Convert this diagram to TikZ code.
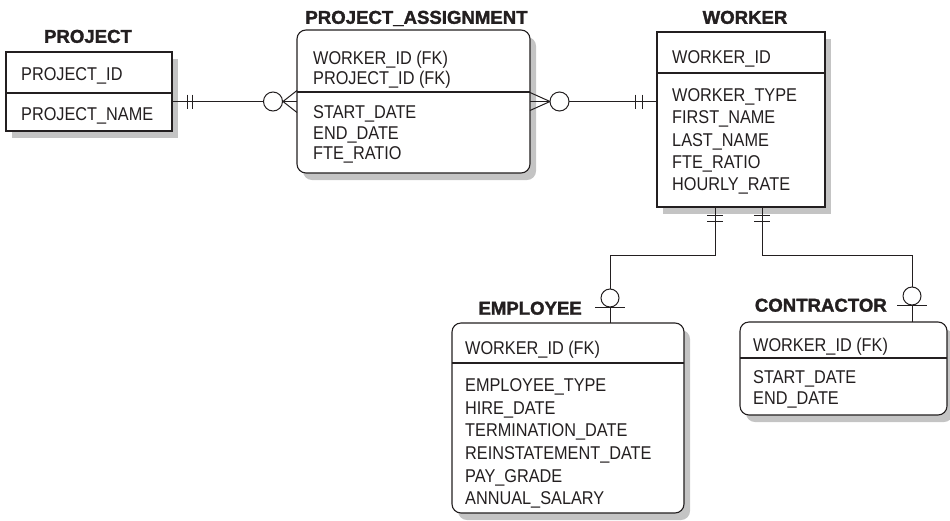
\documentclass[tikz,border=0pt]{standalone}
\usepackage{fontspec}
\setmainfont{Liberation Sans}[FakeStretch=0.88]
\newfontfamily\headfont{Liberation Sans}[BoldFeatures={FakeBold=1.6}]
\usepackage{xcolor}
\definecolor{inkblack}{HTML}{231F20}
\definecolor{shadowgrey}{HTML}{C4C4C4}
\usepackage{tikz}
\usetikzlibrary{positioning,shadows,calc}

\begin{document}
\begin{tikzpicture}[x=1pt,y=-1pt,color=inkblack,
  entity/.style={draw=inkblack,fill=white,line width=1.1pt,inner sep=0pt,outer sep=0pt,anchor=north west,
    drop shadow={shadow xshift=6pt,shadow yshift=-7pt,fill=shadowgrey,opacity=1}},
  weak/.style={entity,rounded corners=9pt},
  title/.style={font=\headfont\bfseries\fontsize{18.6}{20}\selectfont,inner sep=0pt,text height=13.3pt,text depth=0pt},
  attr/.style={font=\fontsize{18.5}{21}\selectfont,anchor=west,inner sep=0pt,text height=13.2pt,text depth=0pt},
  rel/.style={draw=inkblack,line width=1pt},
  zero/.style={circle,draw=inkblack,fill=white,line width=1pt,inner sep=0pt,minimum size=#1},
  zero/.default=19pt]
  \useasboundingbox (0,0) rectangle (950,520);

  % entity boxes
  \node[entity,minimum width=166pt,minimum height=79pt] (proj) at (6,52) {};
  \node[weak,minimum width=233pt,minimum height=143pt] (pa) at (297,30) {};
  \node[entity,minimum width=168pt,minimum height=175pt] (worker) at (657,32) {};
  \node[weak,minimum width=232pt,minimum height=190pt] (emp) at (452,323) {};
  \node[weak,minimum width=207pt,minimum height=93pt] (contr) at (740,322) {};
  \draw[line width=1.1pt] (proj.west |- 0,93) -- (proj.east |- 0,93);
  \draw[line width=1.1pt] (pa.west |- 0,92) -- (pa.east |- 0,92);
  \draw[line width=1.1pt] (worker.west |- 0,73) -- (worker.east |- 0,73);
  \draw[line width=1.1pt] (emp.west |- 0,363) -- (emp.east |- 0,363);
  \draw[line width=1.1pt] (contr.west |- 0,358) -- (contr.east |- 0,358);

  % titles
  \node[title,above=9pt of proj,xshift=-1pt] (projtitle) {PROJECT};
  \node[title,above=6pt of pa,xshift=3pt] (patitle) {PROJECT\_ASSIGNMENT};
  \node[title,above=8pt of worker,xshift=4pt] (workertitle) {WORKER};

  % attributes
  \node[attr] (projkey) at (21,74) {PROJECT\_ID};
  \node[attr] (projattr) at (21,114) {PROJECT\_NAME};
  \foreach \a [count=\i from 0] in {WORKER\_ID (FK),PROJECT\_ID (FK)}
    \node[attr] (pakey\i) at (313,58+20*\i) {\a};
  \foreach \a [count=\i from 0] in {START\_DATE,END\_DATE,FTE\_RATIO}
    \node[attr] (paattr\i) at (313,112+20.5*\i) {\a};
  \node[attr] (workerkey) at (672,57) {WORKER\_ID};
  \foreach \a [count=\i from 0] in {WORKER\_TYPE,FIRST\_NAME,LAST\_NAME,FTE\_RATIO,HOURLY\_RATE}
    \node[attr] (workerattr\i) at (672,95+22.25*\i) {\a};
  \node[attr] (empkey) at (465,348) {WORKER\_ID (FK)};
  \foreach \a [count=\i from 0] in {EMPLOYEE\_TYPE,HIRE\_DATE,TERMINATION\_DATE,REINSTATEMENT\_DATE,PAY\_GRADE,ANNUAL\_SALARY}
    \node[attr] (empattr\i) at (465,385+22.6*\i) {\a};
  \node[attr] (contrkey) at (753,345) {WORKER\_ID (FK)};
  \foreach \a [count=\i from 0] in {START\_DATE,END\_DATE}
    \node[attr] (contrattr\i) at (753,377+21*\i) {\a};

  % PROJECT -- PROJECT_ASSIGNMENT
  \draw[rel] (pa.west -| proj.east) coordinate (pj) -- (pa.west);
  \draw[rel] ($(pj)+(15,-7)$) -- ++(0,14);
  \draw[rel] ($(pj)+(20,-7)$) -- ++(0,14);
  \draw[rel] ($(pa.west)+(0,-11)$) -- ($(pa.west)+(-14,0)$) -- ($(pa.west)+(0,11)$);
  \node[zero] (pjzero) at ($(pa.west)+(-24,0)$) {};

  % PROJECT_ASSIGNMENT -- WORKER
  \draw[rel] (pa.east) -- (pa.east -| worker.west) coordinate (wj);
  \draw[rel] ($(wj)+(-22,-7)$) -- ++(0,14);
  \draw[rel] ($(wj)+(-15,-7)$) -- ++(0,14);
  \draw[rel] ($(pa.east)+(0,-9)$) -- ($(pa.east)+(20,0)$) -- ($(pa.east)+(0,9)$);
  \node[zero] (wjzero) at ($(pa.east)+(29.5,0)$) {};

  % WORKER -- EMPLOYEE
  \draw[rel] ([xshift=58pt]worker.south west) coordinate (we) -- ++(0,48) -| ([xshift=158pt]emp.north west) coordinate (ew);
  \draw[rel] ($(we)+(-8,8)$) -- ++(16,0);
  \draw[rel] ($(we)+(-8,14)$) -- ++(16,0);
  \draw[rel] ($(ew)+(-15,-16)$) -- ++(30,0);
  \node[zero=18pt] (ewzero) at ($(ew)+(0,-25)$) {};
  \node[title,anchor=east] (emptitle) at ($(ew)+(-28,-15)$) {EMPLOYEE};

  % WORKER -- CONTRACTOR
  \draw[rel] ([xshift=105pt]worker.south west) coordinate (wc) -- ++(0,48) -| ([xshift=172pt]contr.north west) coordinate (cw);
  \draw[rel] ($(wc)+(-8,8)$) -- ++(16,0);
  \draw[rel] ($(wc)+(-8,14)$) -- ++(16,0);
  \draw[rel] ($(cw)+(-15,-17)$) -- ++(30,0);
  \node[zero=18pt] (cwzero) at ($(cw)+(0,-26)$) {};
  \node[title,anchor=east] (contrtitle) at ($(cw)+(-25,-17)$) {CONTRACTOR};
\end{tikzpicture}
\end{document}
